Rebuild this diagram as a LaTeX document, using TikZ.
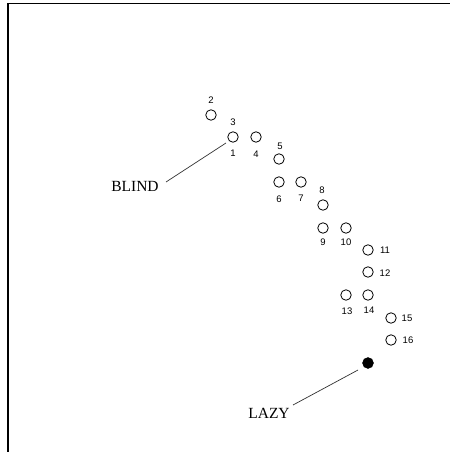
\documentclass[tikz,border=0pt]{standalone}
\usepackage{fontspec}
\setmainfont{Liberation Serif}
\newfontfamily\numfont{Liberation Sans}
\begin{document}
\begin{tikzpicture}[x=1pt,y=-1pt,
  seat/.style={circle,draw=black,line width=0.8pt,minimum size=10.5pt,inner sep=0pt},
  occupied/.style={circle,fill=black,draw=black,minimum size=11pt,inner sep=0pt},
  num/.style={font=\numfont\fontsize{9.5}{10}\selectfont,inner sep=0pt},
  tag/.style={font=\fontsize{15.5}{16}\selectfont,inner sep=1pt},
  pointer/.style={draw=black!80,line width=0.7pt}]
\useasboundingbox (0,0) rectangle (450,452);
\draw[line width=1.4pt] (8,452) -- (8,3.5) -- (450,3.5);
% seats
\node[seat] (s2) at (211,115) {};
\node[seat] (s1) at (233,137) {};
\node[seat] (s4) at (256,137) {};
\node[seat] (s5) at (279,159) {};
\node[seat] (s6) at (279,182) {};
\node[seat] (s7) at (301,182) {};
\node[seat] (s8) at (323,205) {};
\node[seat] (s9) at (323,228) {};
\node[seat] (s10) at (346,228) {};
\node[seat] (s11) at (368,250) {};
\node[seat] (s12) at (368,272) {};
\node[seat] (s13) at (346,295) {};
\node[seat] (s14) at (368,295) {};
\node[seat] (s15) at (391,318) {};
\node[seat] (s16) at (391,340) {};
\node[occupied] (lz) at (368,363) {};
% numbers
\node[num] (n2) at (211,100) {2};
\node[num] (n3) at (233,122) {3};
\node[num] (n1) at (233,153) {1};
\node[num] (n4) at (256,154) {4};
\node[num] (n5) at (280,146) {5};
\node[num] (n6) at (279,199) {6};
\node[num] (n7) at (301,198) {7};
\node[num] (n8) at (322,190) {8};
\node[num] (n9) at (323,242) {9};
\node[num] (n10) at (346,242) {10};
\node[num] (n11) at (385,250) {11};
\node[num] (n12) at (385,273) {12};
\node[num] (n13) at (347,311) {13};
\node[num] (n14) at (369,310) {14};
\node[num] (n15) at (407,318) {15};
\node[num] (n16) at (408,340) {16};
% labels
\node[tag] (blind) at (135,186) {BLIND};
\node[tag] (lazy) at (269,413) {LAZY};
\coordinate (b1) at (166,182);
\coordinate (b2) at (226,143);
\coordinate (l1) at (293,405);
\coordinate (l2) at (358,370);
\draw[pointer] (b1) -- (b2);
\draw[pointer] (l1) -- (l2);
\end{tikzpicture}
\end{document}
